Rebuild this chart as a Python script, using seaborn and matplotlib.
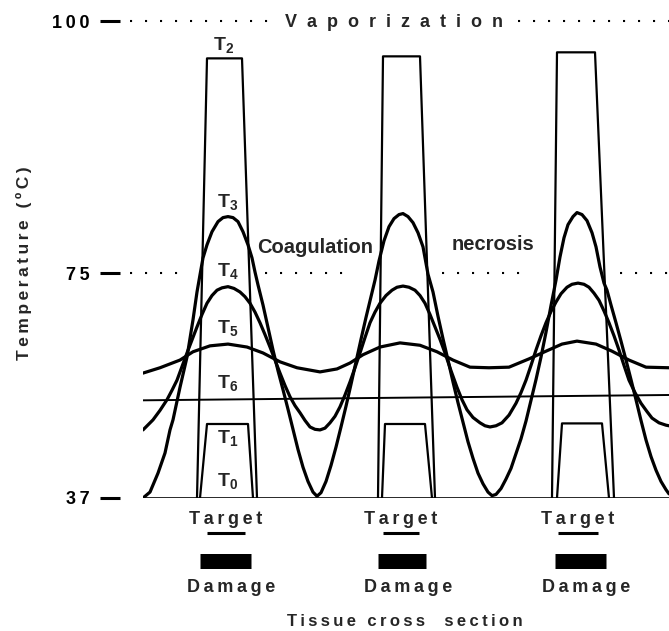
import numpy as np
import pandas as pd
import seaborn as sns
import matplotlib.pyplot as plt

# tissue position (arbitrary units) and temperature (deg C)
t0_x = [0, 526]
t0_temp = [37, 37]

t1_x = [57, 64, 105, 110, 239, 242, 282, 289, 414, 419, 459, 466]
t1_temp = [37, 49.5, 49.5, 37, 37, 49.5, 49.5, 37, 37, 49.6, 49.6, 37]
t1_pulse = [0, 0, 0, 0, 1, 1, 1, 1, 2, 2, 2, 2]

t2_x = [54, 64, 99, 114, 235, 240, 277, 292, 409, 414, 452, 471]
t2_temp = [37, 96.3, 96.3, 37, 37, 96.5, 96.5, 37, 37, 96.9, 96.9, 37]
t2_pulse = [0, 0, 0, 0, 1, 1, 1, 1, 2, 2, 2, 2]

t3_x = [0, 7, 15, 22, 27, 30, 37, 44, 50, 54, 57, 60, 64, 69, 75, 80, 85, 90, 95, 100,
        105, 109, 112, 115, 120, 125, 130, 135, 140, 145, 150, 155, 160, 165, 170, 174,
        178, 183, 188, 193, 198, 203, 208, 213, 218, 223, 228, 232, 236, 241, 246, 251,
        256, 260, 265, 270, 275, 280, 285, 290, 295, 300, 305, 310, 315, 320, 325, 330,
        335, 340, 345, 349, 353, 358, 363, 368, 373, 378, 383, 388, 393, 398, 403, 408,
        413, 417, 421, 425, 430, 434, 439, 444, 449, 453, 457, 461, 464, 468, 473, 478,
        483, 488, 493, 498, 503, 508, 513, 518, 523, 526]
t3_temp = [37.0, 38.0, 41.2, 44.6, 48.5, 50.2, 55.7, 60.8, 67.1, 71.8, 74.7, 76.5, 77.8, 79.1, 80.1, 80.5, 80.6, 80.5, 80.1, 79.1,
           77.8, 76.5, 75.1, 73.0, 69.6, 65.8, 62.0, 58.5, 55.3, 52.0, 48.6, 45.2, 42.2, 39.8, 38.0, 37.3,
           37.9, 39.8, 42.5, 45.6, 49.0, 52.5, 56.2, 60.0, 63.8, 67.5, 71.0, 73.8, 76.2, 78.2, 79.6, 80.4,
           80.8, 80.9, 80.6, 80.0, 79.0, 77.6, 74.8, 71.8, 67.7, 63.9, 60.3, 56.6, 53.1, 49.8, 46.5, 43.7,
           41.2, 39.4, 38.0, 37.4, 37.6, 38.6, 40.2, 42.0, 44.5, 47.0, 50.0, 53.5, 57.0, 60.8, 65.0, 69.5,
           73.8, 76.6, 78.5, 79.8, 80.6, 81.0, 80.8, 80.2, 79.0, 77.6, 75.6, 73.3, 72.1, 69.6, 66.6, 63.5,
           60.3, 57.0, 53.6, 50.1, 46.8, 44.0, 41.7, 39.8, 38.4, 37.7]

t4_x = [0, 10, 17, 24, 29, 34, 39, 44, 49, 54, 59, 64, 69, 74, 79, 85, 91, 97, 102, 107,
        112, 117, 122, 127, 132, 137, 142, 147, 152, 157, 162, 167, 172, 177, 182, 187, 192, 197,
        202, 207, 212, 217, 222, 227, 232, 237, 243, 249, 254, 260, 266, 272, 277, 282, 287, 292,
        297, 302, 308, 314, 319, 324, 330, 337, 342, 347, 353, 359, 366, 373, 378, 383, 388, 393,
        398, 403, 408, 413, 418, 424, 429, 435, 441, 446, 451, 456, 461, 466, 471, 476, 481, 486,
        492, 498, 504, 509, 516, 523, 526]
t4_temp = [48.5, 50.2, 51.8, 53.6, 55.2, 56.9, 59.2, 61.5, 63.7, 65.9, 68.0, 69.9, 71.2, 72.1, 72.5, 72.7, 72.4, 71.8, 71.0, 69.9,
           68.4, 66.6, 64.6, 62.5, 60.3, 58.1, 56.0, 54.1, 52.6, 51.4, 50.1, 49.0, 48.6, 48.5, 48.8, 49.7, 50.8, 52.4,
           54.4, 56.6, 59.0, 61.5, 64.1, 66.6, 68.4, 69.9, 71.2, 72.1, 72.6, 72.8, 72.6, 72.1, 71.2, 69.9, 68.0, 65.9,
           63.8, 61.5, 58.5, 55.7, 53.6, 51.9, 50.6, 49.7, 49.2, 49.0, 49.2, 49.7, 51.0, 53.0, 54.8, 56.9, 59.4, 62.0,
           64.4, 66.6, 68.5, 70.1, 71.5, 72.6, 73.1, 73.3, 73.1, 72.6, 71.6, 70.4, 68.6, 66.6, 64.4, 62.0, 59.4, 56.9,
           54.8, 53.0, 51.6, 50.5, 49.7, 49.3, 49.2]

t5_x = [0, 17, 37, 50, 67, 85, 104, 120, 137, 154,
        177, 194, 207, 220, 237, 257, 277, 294, 310, 327,
        346, 366, 386, 403, 419, 434, 453, 469, 486, 503, 526]
t5_temp = [58.1, 59.0, 60.3, 61.7, 62.7, 63.0, 62.5, 61.5, 60.0, 59.0,
           58.3, 58.8, 59.8, 61.2, 62.5, 63.2, 62.8, 61.7, 60.3, 59.1,
           59.0, 59.1, 60.5, 61.8, 63.0, 63.5, 63.0, 61.8, 60.3, 59.1, 59.0]

t6_x = [0, 526]
t6_temp = [53.5, 54.4]

# target and damage zones under each pulse
target_lo = [64, 240, 415]
target_hi = [102, 276, 455]
damage_lo = [57, 235, 412]
damage_hi = [108, 283, 463]

ytick_vals = [37, 75, 100]
ytick_labels = ['37', '75', '100']


def spaced(s):
    # the original lettering is slightly tracked
    return '\u2009'.join(s)


def fwd(t):
    t = np.asarray(t, dtype=float)
    return np.where(t <= 75, (t - 37) * 225 / 38, 225 + (t - 75) * 252 / 25)


def inv(u):
    u = np.asarray(u, dtype=float)
    return np.where(u <= 225, 37 + u * 38 / 225, 75 + (u - 225) * 25 / 252)


sns.set_style('white')
plt.rcParams['font.family'] = ['Liberation Sans', 'DejaVu Sans']
plt.rcParams['font.weight'] = 'bold'

fig = plt.figure(figsize=(6.69, 6.31), dpi=100)
ax = fig.add_axes([143 / 669, 133 / 631, 526 / 669, 487 / 631])
ax.set_yscale('function', functions=(fwd, inv))

# build long table of curves
rows = []
for name, xs, ys, units in [('T0', t0_x, t0_temp, None), ('T1', t1_x, t1_temp, t1_pulse),
                            ('T2', t2_x, t2_temp, t2_pulse), ('T3', t3_x, t3_temp, None),
                            ('T4', t4_x, t4_temp, None), ('T5', t5_x, t5_temp, None),
                            ('T6', t6_x, t6_temp, None)]:
    if units is None:
        units = [0] * len(xs)
    for i in range(len(xs)):
        rows.append({'curve': name, 'x': xs[i], 'temp': ys[i], 'seg': units[i]})
df = pd.DataFrame(rows)

widths = {'T0': 1.9, 'T1': 1.6, 'T2': 1.6, 'T3': 2.3, 'T4': 2.3, 'T5': 2.3, 'T6': 1.4}
for name, lw in widths.items():
    sub = df[df.curve == name]
    sns.lineplot(data=sub, x='x', y='temp', units='seg', estimator=None, sort=False,
                 color='black', lw=lw, ax=ax, solid_joinstyle='round')

ax.set_xlim(0, 526)
ax.set_ylim(37, 101)
ax.set_xlabel('')
ax.set_ylabel('')
ax.set_xticks([])
ax.set_yticks(ytick_vals, labels=[spaced(s) for s in ytick_labels])
ax.minorticks_off()
for s in ax.spines.values():
    s.set_visible(False)
ax.spines['left'].set_position(('outward', 16.6))
ax.tick_params(axis='y', left=True, length=14.4, width=2.2, pad=7.5, labelsize=13,
               direction='out', colors='black')

# dotted reference levels
dot = (0, (1, 6.2))
for x0, x1 in [(-13, 134), (375, 526)]:
    ax.plot([x0, x1], [100, 100], ls=dot, lw=1.5, color='black', clip_on=False)
for x0, x1 in [(-13, 40), (122, 212), (299, 387), (477, 526)]:
    ax.plot([x0, x1], [75, 75], ls=dot, lw=1.5, color='black', clip_on=False)

ax.text(142, 99.4, '  '.join('Vaporization'), fontsize=13, ha='left', va='baseline')
ax.text(114, 77.0, 'Coagulation', fontsize=14.5, ha='left', va='baseline')
ax.text(309, 77.3, 'necrosis', fontsize=14.5, ha='left', va='baseline')

# curve labels
for lab, tx, ty in [('2', 81, 97.1), ('3', 85, 81.5), ('4', 85, 74.3), ('5', 85, 64.7),
                    ('6', 85, 55.4), ('1', 85, 46.1), ('0', 85, 38.9)]:
    ax.text(tx, ty, r'T$_\mathregular{' + lab + '}$', fontsize=14, ha='center', va='baseline')

# target / damage markers below the axis
xt = ax.get_xaxis_transform()
ax.hlines([-0.072] * 3, target_lo, target_hi, colors='black', lw=2.2, transform=xt, clip_on=False)
ax.hlines([-0.129] * 3, damage_lo, damage_hi, colors='black', lw=10.8, transform=xt, clip_on=False)
for i in range(3):
    ax.text((target_lo[i] + target_hi[i]) / 2, -0.054, spaced('Target'), fontsize=13,
            ha='center', va='baseline', transform=xt)
    ax.text((damage_lo[i] + damage_hi[i]) / 2 + 6, -0.194, spaced('Damage'), fontsize=13,
            ha='center', va='baseline', transform=xt)

fig.text(405 / 669, 5 / 631, spaced('Tissue cross  section'), fontsize=12, ha='center', va='baseline')
fig.text(24 / 669, 1 - 263 / 631, spaced('Temperature (ºC)'), fontsize=12.5, rotation=90,
         ha='center', va='center')

fig.savefig('out.png', dpi=100)
